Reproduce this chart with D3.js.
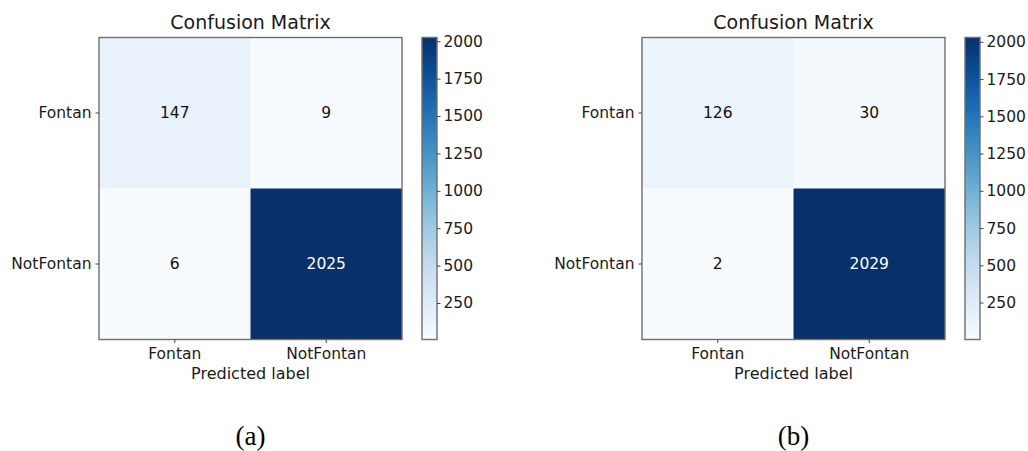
<!DOCTYPE html>
<html>
<head>
<meta charset="utf-8">
<script src="https://cdn.jsdelivr.net/npm/d3@7"></script>
<style>
  html, body { margin: 0; padding: 0; background: #fff; }
  svg { display: block; }
  text { font-family: 'DejaVu Sans', sans-serif; fill: #1a1a1a; }
</style>
</head>
<body>
<div id="chart"></div>
<script>
// data
const classes = ['Fontan', 'NotFontan'];
const matrixA = [[147, 9], [6, 2025]];
const matrixB = [[126, 30], [2, 2029]];
const colorbarTicks = [250, 500, 750, 1000, 1250, 1500, 1750, 2000];
const panelLabels = ['(a)', '(b)'];

const width = 1028;
const height = 451;
const font = "'DejaVu Sans', sans-serif";

const svg = d3.select('#chart').append('svg')
  .attr('width', width)
  .attr('height', height);

const defs = svg.append('defs');

// panel layout (matrix box + colorbar box)
const panels = [
  { matrix: matrixA, label: panelLabels[0], x0: 99, x1: 402, cb0: 422, cb1: 437 },
  { matrix: matrixB, label: panelLabels[1], x0: 642, x1: 945, cb0: 965, cb1: 980 },
];
const plotTop = 37.5;
const plotBottom = 339.5;

function styleAxis(a) {
  a.select('.domain').remove();
  a.selectAll('.tick line').attr('stroke', '#444');
  a.selectAll('.tick text')
    .style('font-size', '15.5px')
    .style('font-family', font)
    .attr('fill', '#1a1a1a');
}

panels.forEach((p, pi) => {
  const g = svg.append('g');
  const flat = p.matrix.flat();
  const vmin = d3.min(flat);
  const vmax = d3.max(flat);
  const color = d3.scaleSequential(d3.interpolateBlues).domain([vmin, vmax]);

  const x = d3.scaleBand().domain(classes).range([p.x0, p.x1]);
  const y = d3.scaleBand().domain(classes).range([plotTop, plotBottom]);

  const cells = [];
  p.matrix.forEach((row, i) => row.forEach((v, j) => cells.push({ r: classes[i], c: classes[j], v })));

  g.selectAll('rect.cell')
    .data(cells)
    .enter()
    .append('rect')
    .attr('class', 'cell')
    .attr('x', d => x(d.c))
    .attr('y', d => y(d.r))
    .attr('width', x.bandwidth())
    .attr('height', y.bandwidth())
    .attr('fill', d => color(d.v));

  g.selectAll('text.val')
    .data(cells)
    .enter()
    .append('text')
    .attr('class', 'val')
    .attr('x', d => x(d.c) + x.bandwidth() / 2)
    .attr('y', d => y(d.r) + y.bandwidth() / 2)
    .attr('text-anchor', 'middle')
    .attr('dy', '0.35em')
    .style('font-size', '15.5px')
    .style('fill', d => (d.v > (vmin + vmax) / 2 ? '#ffffff' : '#111'))
    .text(d => d.v);

  // frame
  g.append('rect')
    .attr('x', p.x0).attr('y', plotTop)
    .attr('width', p.x1 - p.x0).attr('height', plotBottom - plotTop)
    .attr('fill', 'none')
    .attr('stroke', '#6e6e6e')
    .attr('stroke-width', 1.4);

  // axes
  g.append('g')
    .attr('transform', `translate(0,${plotBottom})`)
    .call(d3.axisBottom(x).tickSize(3.5).tickPadding(5))
    .call(styleAxis);
  g.append('g')
    .attr('transform', `translate(${p.x0},0)`)
    .call(d3.axisLeft(y).tickSize(3.5).tickPadding(4))
    .call(styleAxis);

  // titles
  g.append('text')
    .attr('x', (p.x0 + p.x1) / 2)
    .attr('y', 29)
    .attr('text-anchor', 'middle')
    .style('font-size', '19px')
    .text('Confusion Matrix');

  g.append('text')
    .attr('x', (p.x0 + p.x1) / 2)
    .attr('y', 379)
    .attr('text-anchor', 'middle')
    .style('font-size', '16px')
    .text('Predicted label');

  g.append('text')
    .attr('x', (p.x0 + p.x1) / 2)
    .attr('y', 445)
    .attr('text-anchor', 'middle')
    .style('font-family', "'Liberation Serif', serif")
    .style('font-size', '27px')
    .style('fill', '#000')
    .text(p.label);

  // colorbar
  const cbScale = d3.scaleLinear().domain([vmin, vmax]).range([plotBottom, plotTop]);
  const gradId = `cbgrad${pi}`;
  const grad = defs.append('linearGradient')
    .attr('id', gradId)
    .attr('x1', 0).attr('y1', 1).attr('x2', 0).attr('y2', 0);
  d3.range(0, 1.0001, 0.05).forEach(t => {
    grad.append('stop')
      .attr('offset', t)
      .attr('stop-color', d3.interpolateBlues(t));
  });

  g.append('rect')
    .attr('x', p.cb0).attr('y', plotTop)
    .attr('width', p.cb1 - p.cb0).attr('height', plotBottom - plotTop)
    .attr('fill', `url(#${gradId})`)
    .attr('stroke', '#6e6e6e')
    .attr('stroke-width', 1.4);

  g.append('g')
    .attr('transform', `translate(${p.cb1},0)`)
    .call(d3.axisRight(cbScale).tickValues(colorbarTicks).tickFormat(d3.format('d'))
      .tickSize(3.5).tickPadding(3))
    .call(styleAxis);
});
</script>
</body>
</html>
